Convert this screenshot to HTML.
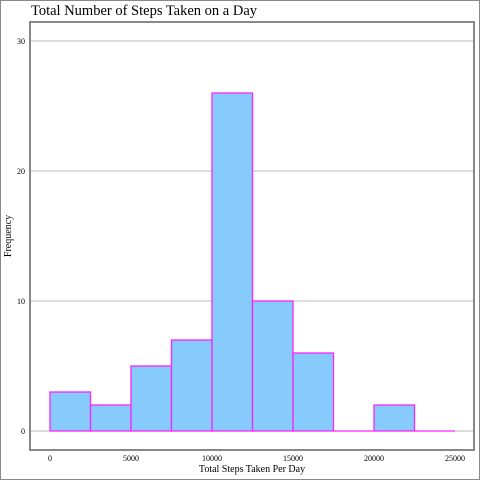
<!DOCTYPE html>
<html><head><meta charset="utf-8"><style>body{margin:0;background:#fff}svg{display:block}</style></head>
<body>
<svg width="480" height="480" viewBox="0 0 480 480" font-family="Liberation Serif, serif">
<rect x="0.5" y="0.5" width="479" height="479" fill="#fff" stroke="#888"/>
<text x="31" y="15" font-size="14.5">Total Number of Steps Taken on a Day</text>
<rect x="30" y="22" width="444" height="428" fill="#fff" stroke="#888" stroke-width="2"/>
<g id="grid"></g><g id="bars"></g><g id="axes"></g>
<text x="252" y="472" font-size="10" text-anchor="middle">Total Steps Taken Per Day</text>
<text transform="translate(11,236) rotate(-90)" font-size="10" text-anchor="middle">Frequency</text>
</svg>
<script>
const binEdges=[0,2500,5000,7500,10000,12500,15000,17500,20000,22500,25000];
const counts=[3,2,5,7,26,10,6,0,2,0];
const yTicks=[0,10,20,30];
const xTicks=[0,5000,10000,15000,20000,25000];
const NS='http://www.w3.org/2000/svg';
const xs=v=>50+v*(405/25000);
const ys=v=>431-v*13;
function mk(t,a,p){const e=document.createElementNS(NS,t);for(const k in a)e.setAttribute(k,a[k]);p.appendChild(e);return e;}
const g=document.getElementById('grid'),b=document.getElementById('bars'),ax=document.getElementById('axes');
yTicks.forEach(v=>{
 const l=mk('line',{x1:31,x2:473,y1:ys(v),y2:ys(v),stroke:'#bbb','stroke-width':1},g);
 
 
 const t=mk('text',{x:25,y:ys(v)+3,'font-size':8,'text-anchor':'end'},ax);t.textContent=v;
 
 
});
xTicks.forEach(v=>{
 const t=mk('text',{x:xs(v),y:461,'font-size':8,'text-anchor':'middle'},ax);t.textContent=v;
 
 
});
counts.forEach((c,i)=>{
 const x0=xs(binEdges[i]),x1=xs(binEdges[i+1]);
 if(c>0){
  const r=mk('rect',{x:x0,y:ys(c),width:x1-x0,height:ys(0)-ys(c),fill:'#87CAFC',stroke:'#FF22FF','stroke-width':1.3},b);
  
  
 } else {
  const r=mk('line',{x1:x0,x2:x1,y1:ys(0),y2:ys(0),stroke:'#FF22FF','stroke-width':1.3},b);
  
  
 }
});
</script>
</body></html>
